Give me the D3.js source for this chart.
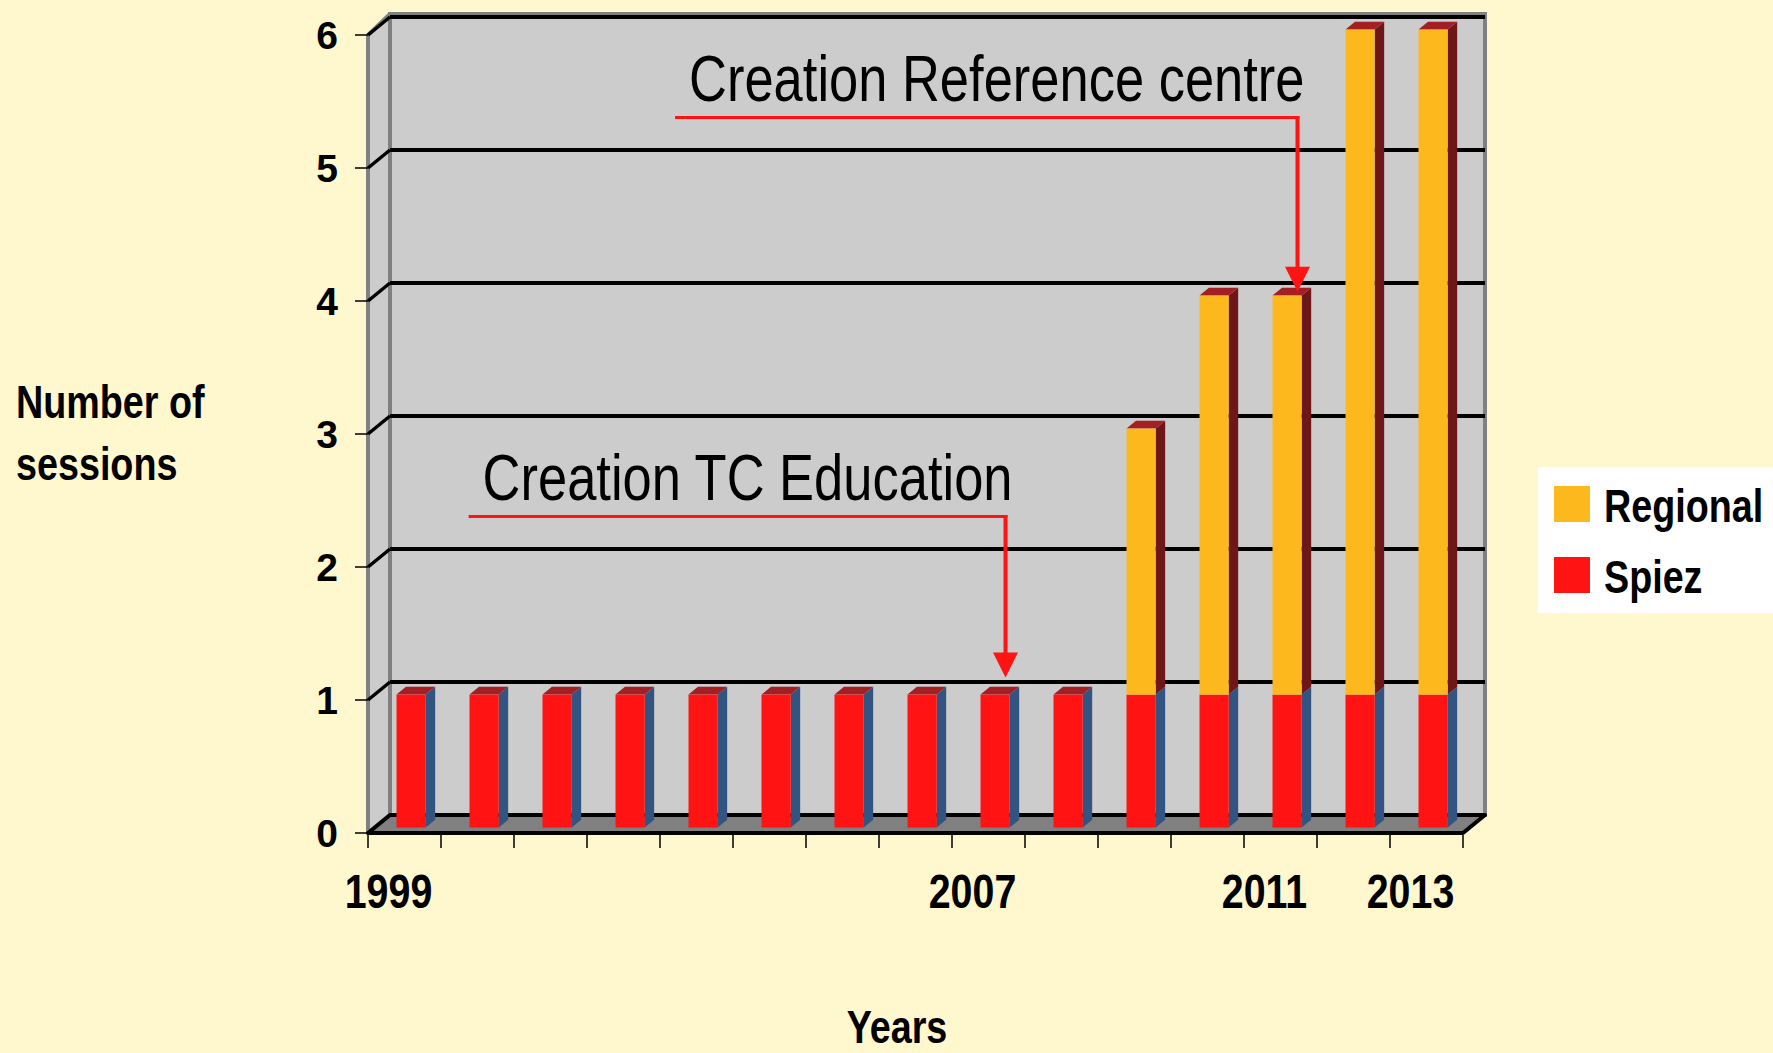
<!DOCTYPE html>
<meta charset="utf-8">
<html>
<head>
<script src="https://d3js.org/d3.v7.min.js" charset="utf-8"></script>
<style type="text/css">
    body { margin: 0; background: #FFF8CF; }
    text { font-family: "Liberation Sans", Arial, sans-serif; }
    .num { font-weight: bold; }
</style>
</head>
<body>
<div id="chart"></div>

<script type="text/javascript">

// data
var years = ["1999", "2000", "2001", "2002", "2003", "2004", "2005", "2006",
             "2007", "2008", "2009", "2010", "2011", "2012", "2013"];
var spiez    = [1, 1, 1, 1, 1, 1, 1, 1, 1, 1, 1, 1, 1, 1, 1];
var regional = [0, 0, 0, 0, 0, 0, 0, 0, 0, 0, 2, 3, 3, 5, 5];
var yearLabels = ["1999", "2007", "2011", "2013"];
var yTicks = [0, 1, 2, 3, 4, 5, 6];
var seriesNames = ["Regional", "Spiez"];

// annotations (levels in session units)
var noteTexts  = ["Creation TC Education", "Creation Reference centre"];
var noteYears  = ["2007", "2011"];
var noteLevels = [2.38, 5.38];
var noteTips   = [1.17, 4.07];

var W = 1773, H = 1053;
var DX = 22, DY = 18;        // depth of the 3d box
var Z0 = 0.3, Z1 = 0.73;     // bar depth (front / back)
var NARROW = 0.82;           // no narrow font installed -> squeeze horizontally

var colors = {
    bg: "#FFF8CF", wall: "#CCCCCC", frame: "#808080",
    spiez: "#FF1313", spiezSide: "#325480",
    regional: "#FDB81E", regionalSide: "#6E1719", cap: "#A41F24"
};

var svg = d3.select("#chart").append("svg")
    .attr("width", W)
    .attr("height", H);

svg.append("rect").attr("width", W).attr("height", H).attr("fill", colors.bg);

// text squeezed like Arial Narrow
function narrowText(parent, px, py, str) {
    return parent.append("text")
        .attr("transform", "translate(" + px + "," + py + ") scale(" + NARROW + ",1)")
        .text(str);
}

var x = d3.scaleBand()
    .domain(years)
    .range([368, 1463])
    .paddingInner(0.6)
    .paddingOuter(0.3);

var y = d3.scaleLinear()
    .domain([0, 6])
    .range([833, 35]);

function P(px, v, z) { return [px + z * DX, y(v) - z * DY]; }
function poly(pts) { return pts.map(function(p) { return p.join(","); }).join(" "); }

var xl = x.range()[0], xr = x.range()[1];

// back wall
svg.append("rect")
    .attr("x", xl + DX).attr("y", y(6) - DY - 3)
    .attr("width", xr - xl).attr("height", y(0) - y(6) + 3)
    .attr("fill", colors.wall)
    .attr("stroke", colors.frame).attr("stroke-width", 4);

// left wall
svg.append("polygon")
    .attr("points", poly([[xl, y(0)], [xl, y(6)], [xl + DX, y(6) - DY - 3], [xl + DX, y(0) - DY]]))
    .attr("fill", colors.wall)
    .attr("stroke", colors.frame).attr("stroke-width", 4)
    .attr("stroke-linejoin", "round");

// gridlines
yTicks.filter(function(v) { return v > 0; }).forEach(function(v) {
    svg.append("line")
        .attr("x1", xl + DX).attr("x2", xr + DX)
        .attr("y1", y(v) - DY).attr("y2", y(v) - DY)
        .attr("stroke", "#000").attr("stroke-width", 4);
    svg.append("line")
        .attr("x1", xl).attr("y1", y(v))
        .attr("x2", xl + DX).attr("y2", y(v) - DY)
        .attr("stroke", "#000").attr("stroke-width", 3.5);
});

// floor
svg.append("polygon")
    .attr("points", poly([[xl, y(0)], [xr, y(0)], [xr + DX, y(0) - DY], [xl + DX, y(0) - DY]]))
    .attr("fill", colors.frame)
    .attr("stroke", "#000").attr("stroke-width", 4)
    .attr("stroke-linejoin", "round");

// bars
var stackData = years.map(function(yr, i) {
    return [
        { v0: 0, v1: spiez[i], fill: colors.spiez, side: colors.spiezSide },
        { v0: spiez[i], v1: spiez[i] + regional[i], fill: colors.regional, side: colors.regionalSide }
    ].filter(function(s) { return s.v1 > s.v0; });
});

var bw = x.bandwidth();
years.forEach(function(yr, i) {
    var bx = x(yr);
    var g = svg.append("g").attr("class", "bar");
    var segs = stackData[i];
    segs.forEach(function(s, k) {
        g.append("polygon")
            .attr("points", poly([P(bx + bw, s.v0, Z0), P(bx + bw, s.v0, Z1), P(bx + bw, s.v1, Z1), P(bx + bw, s.v1, Z0)]))
            .attr("fill", s.side);
        if (k === segs.length - 1) {
            g.append("polygon")
                .attr("points", poly([P(bx, s.v1, Z0), P(bx + bw, s.v1, Z0), P(bx + bw, s.v1, Z1), P(bx, s.v1, Z1)]))
                .attr("fill", colors.cap);
        }
        var a = P(bx, s.v1, Z0), b = P(bx + bw, s.v0, Z0);
        g.append("rect")
            .attr("x", a[0]).attr("y", a[1])
            .attr("width", b[0] - a[0]).attr("height", b[1] - a[1])
            .attr("fill", s.fill);
    });
});

// y axis ticks and labels
yTicks.forEach(function(v) {
    svg.append("line")
        .attr("x1", xl - 13).attr("x2", xl)
        .attr("y1", y(v)).attr("y2", y(v))
        .attr("stroke", "#000").attr("stroke-width", 1.5);
    svg.append("text")
        .attr("class", "num")
        .attr("x", 338).attr("y", y(v))
        .attr("dy", "0.36em")
        .attr("text-anchor", "end")
        .attr("font-size", 39)
        .text(v);
});

// x axis ticks
d3.range(years.length + 1).forEach(function(k) {
    var tx = xl + k * x.step();
    svg.append("line")
        .attr("x1", tx).attr("x2", tx)
        .attr("y1", y(0) + 2).attr("y2", y(0) + 15)
        .attr("stroke", "#000").attr("stroke-width", 1.5);
});

yearLabels.forEach(function(yr) {
    narrowText(svg, x(yr) + bw / 2 - 16, 908, yr)
        .attr("text-anchor", "middle")
        .attr("font-size", 48)
        .attr("font-weight", "bold");
});

// axis titles
narrowText(svg, 16, 418, "Number of").attr("font-size", 46).attr("font-weight", "bold");
narrowText(svg, 16, 480, "sessions").attr("font-size", 46).attr("font-weight", "bold");

narrowText(svg, 897, 1043, "Years")
    .attr("text-anchor", "middle")
    .attr("font-size", 46)
    .attr("font-weight", "bold");

// annotations
noteTexts.forEach(function(t, i) {
    var ax = x(noteYears[i]) + Z0 * DX + 25;
    var ly = y(noteLevels[i]);
    var tip = y(noteTips[i]);
    var label = narrowText(svg, ax + 7, ly - 16, t)
        .attr("text-anchor", "end")
        .attr("font-size", 64);
    var len = label.node().getComputedTextLength() * NARROW;
    svg.append("line")
        .attr("x1", ax + 7 - len - 14).attr("x2", ax + 2)
        .attr("y1", ly).attr("y2", ly)
        .attr("stroke", "#FF1313").attr("stroke-width", 3);
    svg.append("line")
        .attr("x1", ax).attr("x2", ax)
        .attr("y1", ly - 1.5).attr("y2", tip - 20)
        .attr("stroke", "#FF1313").attr("stroke-width", 4);
    svg.append("polygon")
        .attr("points", poly([[ax - 12.5, tip - 25], [ax + 12.5, tip - 25], [ax, tip]]))
        .attr("fill", "#FF1313");
});

// legend
var legend = svg.append("g").attr("transform", "translate(1538,467)");
legend.append("rect").attr("width", 235).attr("height", 146).attr("fill", "#fff");
var legendColors = [colors.regional, colors.spiez];
seriesNames.forEach(function(name, i) {
    legend.append("rect")
        .attr("x", 16).attr("y", 19 + i * 71)
        .attr("width", 36).attr("height", 36)
        .attr("fill", legendColors[i]);
    narrowText(legend, 66, 55 + i * 71, name)
        .attr("font-size", 46)
        .attr("font-weight", "bold");
});

</script>
</body>
</html>
